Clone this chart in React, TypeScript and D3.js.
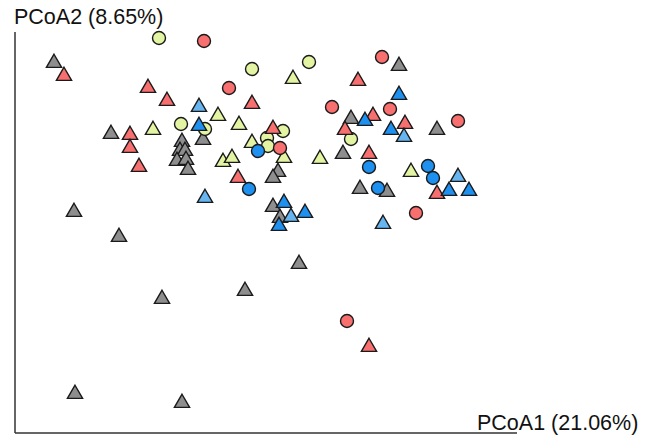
import React from "react";
import * as d3 from "d3";

// Sample ordination scores (PCoA1, PCoA2), grouped by colour and marker shape
const redCircleX = [189, 214, 265, 367, 317, 375, 443, 401, 332];
const redCircleY = [392, 345, 285, 376, 326, 324, 312, 220, 112];

const redTriangleX = [49, 133, 152, 237, 115, 115, 124, 258, 223, 343, 358, 330, 390, 354, 422, 354];
const redTriangleY = [357, 345, 332, 329, 298, 285, 266, 304, 255, 352, 317, 303, 309, 279, 239, 86];

const yellowCircleX = [144, 237, 294, 166, 190, 268, 252, 253, 336];
const yellowCircleY = [395, 364, 371, 309, 304, 302, 295, 287, 294];

const yellowTriangleX = [278, 203, 224, 138, 237, 269, 208, 217, 305, 396];
const yellowTriangleY = [354, 317, 308, 303, 290, 275, 271, 275, 274, 261];

const grayTriangleX = [39, 96, 167, 165, 170, 162, 171, 173, 188, 263, 258, 59, 104, 258, 265, 284, 230, 147, 60, 167, 384, 336, 422, 328, 345, 372];
const grayTriangleY = [370, 299, 291, 282, 282, 272, 273, 263, 293, 261, 255, 221, 196, 226, 215, 169, 142, 134, 39, 30, 367, 314, 303, 279, 244, 241];

const blueCircleX = [243, 234, 354, 413, 418, 363];
const blueCircleY = [282, 244, 266, 267, 255, 245];

const blueTriangleX = [184, 269, 290, 264, 384, 350, 376, 434, 454];
const blueTriangleY = [307, 230, 220, 207, 338, 312, 303, 242, 242];

const lightBlueTriangleX = [184, 190, 276, 389, 443, 368];
const lightBlueTriangleY = [326, 235, 216, 296, 256, 209];

const xLabel = "PCoA1 (21.06%)";
const yLabel = "PCoA2 (8.65%)";

type Group = { xs: number[]; ys: number[]; color: string; shape: "circle" | "triangle" };

const groups: Group[] = [
  { xs: grayTriangleX, ys: grayTriangleY, color: "#8e8e8e", shape: "triangle" },
  { xs: yellowTriangleX, ys: yellowTriangleY, color: "#e3f5a3", shape: "triangle" },
  { xs: yellowCircleX, ys: yellowCircleY, color: "#e3f5a3", shape: "circle" },
  { xs: redTriangleX, ys: redTriangleY, color: "#f76f6f", shape: "triangle" },
  { xs: redCircleX, ys: redCircleY, color: "#f76f6f", shape: "circle" },
  { xs: lightBlueTriangleX, ys: lightBlueTriangleY, color: "#66b5f0", shape: "triangle" },
  { xs: blueTriangleX, ys: blueTriangleY, color: "#1e90f0", shape: "triangle" },
  { xs: blueCircleX, ys: blueCircleY, color: "#1e90f0", shape: "circle" },
];

const W = 655;
const H = 436;

export default function App() {
  const x = d3.scaleLinear().domain([0, 502]).range([15, 517]);
  const y = d3.scaleLinear().domain([0, 401]).range([433, 32]);
  const tri = d3.symbol().type(d3.symbolTriangle).size(100)();
  const circle = d3.symbol().type(d3.symbolCircle).size(Math.PI * 6.5 * 6.5)();

  return (
    <svg
      width={W}
      height={H}
      style={{ position: "absolute", left: 0, top: 0, background: "#fff" }}
      fontFamily="'Liberation Sans', Arial, Helvetica, sans-serif"
    >
      <line x1={x(0)} x2={x(0)} y1={y(0)} y2={y(401)} stroke="#333" strokeWidth={1.5} />
      <line x1={x(0)} x2={x(502)} y1={y(0)} y2={y(0)} stroke="#333" strokeWidth={1.5} />
      <text x={14} y={23.5} fontSize={21.5} fill="#111">{yLabel}</text>
      <text x={477} y={429.5} fontSize={21.5} fill="#111">{xLabel}</text>
      {groups.map((g, gi) =>
        g.xs.map((xv, i) => (
          <path
            key={`${gi}-${i}`}
            d={g.shape === "circle" ? circle! : tri!}
            transform={`translate(${x(xv)},${y(g.ys[i])})`}
            fill={g.color}
            stroke="#1a1a1a"
            strokeWidth={1.4}
          />
        ))
      )}
    </svg>
  );
}
